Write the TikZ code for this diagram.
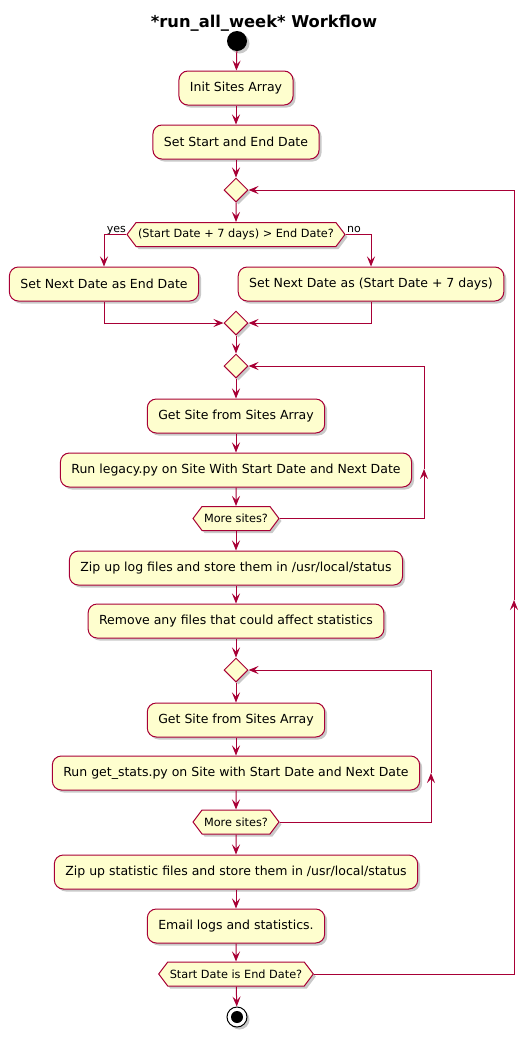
\documentclass[tikz,border=0pt]{standalone}
\usepackage{fontspec}
\setmainfont{DejaVu Sans}
\usepackage{tikz}
\usetikzlibrary{shapes.geometric,shapes.symbols,shadows,arrows.meta}
\definecolor{umlred}{HTML}{A80036}
\definecolor{umlfill}{HTML}{FEFECE}

\begin{document}
\begin{tikzpicture}[x=1pt,y=-1pt]
	\tikzstyle{every node}+=[inner sep=0pt]
	\tikzstyle{shade}=[drop shadow={shadow xshift=2.5pt,shadow yshift=-2.5pt,opacity=0.3,fill=black!70}]
	\tikzstyle{act}=[draw=umlred, fill=umlfill, line width=1pt, rounded corners=9pt, minimum height=34pt, inner xsep=11pt, font=\fontsize{12.5}{15}\selectfont, shade]
	\tikzstyle{merge}=[diamond, draw=umlred, fill=umlfill, line width=1pt, minimum width=24pt, minimum height=24pt, shade]
	\tikzstyle{test}=[signal, signal to=west and east, signal pointer angle=106, draw=umlred, fill=umlfill, line width=1pt, minimum height=24pt, inner xsep=2pt, font=\fontsize{11.3}{13}\selectfont, shade]
	\tikzstyle{flow}=[draw=umlred, line width=1pt, -{Stealth[length=10pt,width=8pt,inset=4pt]}]
	\tikzstyle{wire}=[draw=umlred, line width=1pt]
	\tikzstyle{lbl}=[font=\fontsize{11}{13}\selectfont]
	\useasboundingbox (0,0) rectangle (529,1037);
	% title
	\node [anchor=base, font=\bfseries\fontsize{16.3}{19}\selectfont] (title) at (264,27) {*run\_all\_week* Workflow};
	% start
	\node [circle, fill=black, minimum size=20pt, shade] (start) at (237,41) {};
	\node [act] (init) at (236,88) {Init Sites Array};
	\node [act] (setdate) at (236,142) {Set Start and End Date};
	\node [merge] (m1) at (236,190) {};
	% next date
	\node [test] (cond) at (236,234.5) {(Start Date + 7 days) > End Date?};
	\node [lbl, anchor=base east] (yes) at (126,232) {yes};
	\node [lbl, anchor=base west] (no) at (347,232) {no};
	\node [act] (yesbox) at (104,284) {Set Next Date as End Date};
	\node [act] (nobox) at (371,284) {Set Next Date as (Start Date + 7 days)};
	\node [merge] (m2) at (236,323) {};
	% legacy loop
	\node [merge] (m3) at (236,366) {};
	\node [act] (get1) at (236,416) {Get Site from Sites Array};
	\node [act] (run1) at (236,470) {Run legacy.py on Site With Start Date and Next Date};
	\node [test] (more1) at (236,518.5) {More sites?};
	\node [act] (zip1) at (236,568) {Zip up log files and store them in /usr/local/status};
	\node [act] (remove) at (236,621) {Remove any files that could affect statistics};
	% stats loop
	\node [merge] (m4) at (236,670) {};
	\node [act] (get2) at (236,720) {Get Site from Sites Array};
	\node [act] (run2) at (236,773) {Run get\_stats.py on Site with Start Date and Next Date};
	\node [test] (more2) at (236,822) {More sites?};
	\node [act] (zip2) at (236,872) {Zip up statistic files and store them in /usr/local/status};
	\node [act] (email) at (236,926) {Email logs and statistics.};
	\node [test] (last) at (236,974) {Start Date is End Date?};
	% stop
	\node [circle, draw=black, line width=1pt, fill=white, minimum size=20pt, shade] (stop) at (237,1017) {};
	\fill [black] (stop) circle (6);
	\coordinate (lp1) at (424,469);
	\coordinate (lp2) at (431,773);
	\coordinate (lp3) at (514,600);
	\draw [flow] (start) -- (init);
	\draw [flow] (init) -- (setdate);
	\draw [flow] (setdate) -- (m1);
	\draw [flow] (m1) -- (cond);
	\draw [flow] (cond.west) -| (yesbox.north);
	\draw [flow] (cond.east) -| (nobox.north);
	\draw [flow] (yesbox.south) |- (m2.west);
	\draw [flow] (nobox.south) |- (m2.east);
	\draw [flow] (m2) -- (m3);
	\draw [flow] (m3) -- (get1);
	\draw [flow] (get1) -- (run1);
	\draw [flow] (run1) -- (more1);
	\draw [flow] (more1.east) -| (lp1);
	\draw [flow] (lp1) |- (m3.east);
	\draw [flow] (more1) -- (zip1);
	\draw [flow] (zip1) -- (remove);
	\draw [flow] (remove) -- (m4);
	\draw [flow] (m4) -- (get2);
	\draw [flow] (get2) -- (run2);
	\draw [flow] (run2) -- (more2);
	\draw [flow] (more2.east) -| (lp2);
	\draw [flow] (lp2) |- (m4.east);
	\draw [flow] (more2) -- (zip2);
	\draw [flow] (zip2) -- (email);
	\draw [flow] (email) -- (last);
	\draw [flow] (last.east) -| (lp3);
	\draw [flow] (lp3) |- (m1.east);
	\draw [flow] (last) -- (stop);
\end{tikzpicture}
\end{document}
